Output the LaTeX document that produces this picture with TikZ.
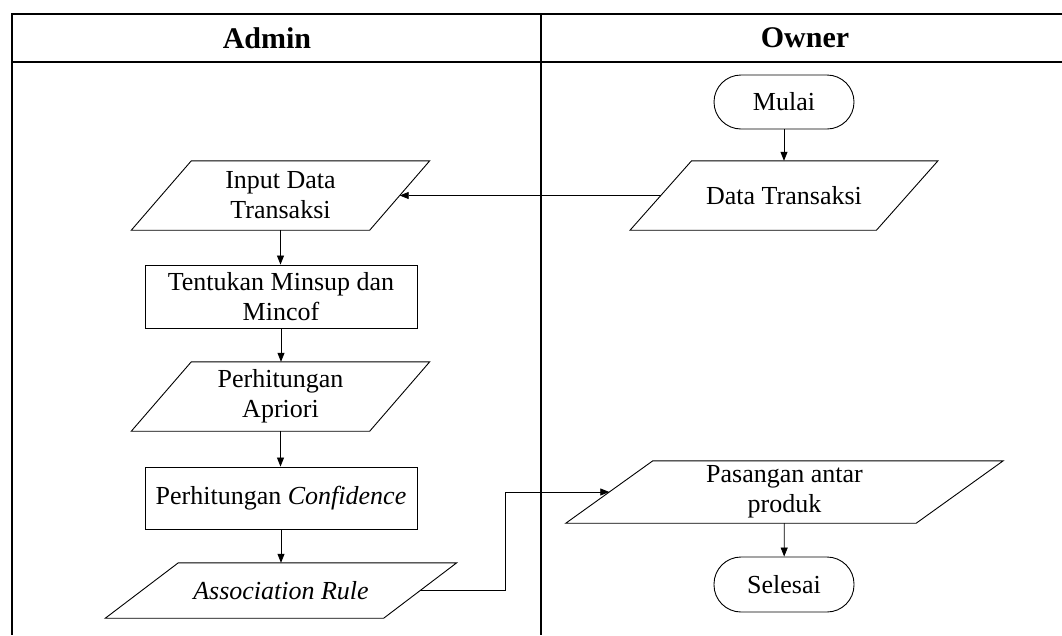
\documentclass[tikz,border=0pt]{standalone}
\usepackage{fontspec}
\setmainfont{Liberation Serif}
\usetikzlibrary{arrows.meta}

% parallelogram drawn around a rectangular node: #1 node name, #2 horizontal slant
\newcommand\slantbox[2]{%
  \draw[boxline] ([xshift=#2/2]#1.north west) -- ([xshift=#2/2]#1.north east)
    -- ([xshift=-#2/2]#1.south east) -- ([xshift=-#2/2]#1.south west) -- cycle;}

\tikzset{
  lane/.style={line width=1.8pt, line join=miter},
  boxline/.style={line width=0.9pt},
  flow/.style={line width=0.8pt, -{Triangle[length=9pt,width=7pt]}},
  proc/.style={draw, boxline, minimum width=272pt, minimum height=62pt, align=center, inner sep=0pt},
  term/.style={draw, boxline, rounded corners=27pt, minimum width=140pt, minimum height=54pt, inner sep=0pt},
  io/.style={minimum height=69pt, align=center, inner sep=0pt},
  head/.style={font=\bfseries\fontsize{30}{34}\selectfont},
}

\begin{document}
\begin{tikzpicture}[x=1pt, y=-1pt, font=\fontsize{26}{30}\selectfont]
\useasboundingbox (0,0) rectangle (1062,635);

% swimlane frame
\draw[lane] (1062,14) -- (12,14) -- (12,635);
\draw[lane] (12,62) -- (1062,62);
\draw[lane] (541,14) -- (541,635);
\node[head] (hadmin) at (267,38) {Admin};
\node[head] (howner) at (805,38) {Owner};

% Owner lane
\node[term] (mulai) at (784,102) {Mulai};
\node[io, minimum width=246pt] (dt) at (784,195.5) {Data Transaksi};
\slantbox{dt}{61.5}
\node[io, minimum width=350pt, minimum height=62pt] (pas) at (784.5,492) {Pasangan antar\\produk};
\slantbox{pas}{87}
\node[term, minimum height=55pt] (selesai) at (784,584.5) {Selesai};

% Admin lane
\node[io, minimum width=238pt] (inp) at (280.5,195.5) {Input Data\\Transaksi};
\slantbox{inp}{60}
\node[proc, minimum height=63pt] (minsup) at (281,296.5) {Tentukan Minsup dan\\Mincof};
\node[io, minimum width=238pt] (apr) at (280.5,396.5) {Perhitungan\\Apriori};
\slantbox{apr}{60}
\node[proc] (conf) at (281,498) {Perhitungan \textit{Confidence}};
\node[io, minimum width=278pt, minimum height=55pt] (ar) at (281,590.5) {\textit{Association Rule}};
\slantbox{ar}{73}

\coordinate (bend) at (505,492);

% connectors
\draw[flow] (mulai) -- (dt);
\draw[flow] (dt.west) -- (inp.east);
\draw[flow] (inp.south) -- (inp.south |- minsup.north);
\draw[flow] (minsup.south) -- (minsup.south |- apr.north);
\draw[flow] (apr.south) -- (apr.south |- conf.north);
\draw[flow] (conf) -- (ar);
\draw[flow] (ar.east) -| (bend) |- (pas.west);
\draw[flow] (pas) -- (selesai);
\end{tikzpicture}
\end{document}
